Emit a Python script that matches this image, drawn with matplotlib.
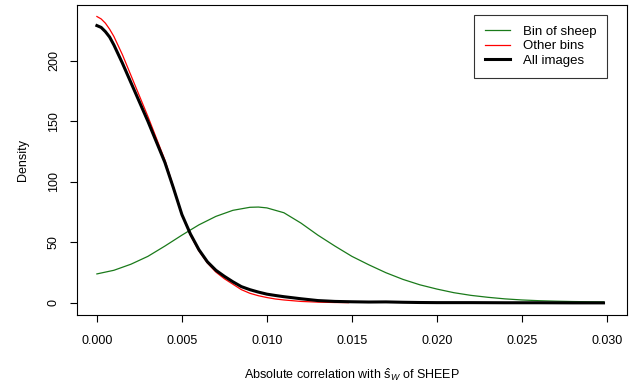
import matplotlib
matplotlib.use("Agg")
import matplotlib.pyplot as plt

plt.rcParams["font.family"] = ["Liberation Sans", "DejaVu Sans"]
plt.rcParams["mathtext.fontset"] = "custom"
plt.rcParams["mathtext.rm"] = "Liberation Sans"
plt.rcParams["mathtext.it"] = "Liberation Sans:italic"

# density estimates
x_all = [0, 0.00025, 0.0005, 0.00075, 0.001, 0.0015, 0.002, 0.0025, 0.003, 0.0035,
         0.004, 0.0045, 0.005, 0.0055, 0.006, 0.0065, 0.007, 0.0075, 0.008, 0.0085,
         0.009, 0.0095, 0.010, 0.0105, 0.011, 0.012, 0.013, 0.014, 0.015, 0.016,
         0.017, 0.018, 0.019, 0.020, 0.022, 0.024, 0.026, 0.028, 0.0298]
all_images = [229, 227.5, 224, 219.5, 213, 198, 182, 166, 150, 133,
              116, 95, 73, 57, 44, 34, 27, 22, 17.5, 13.5,
              11, 9, 7.3, 6.2, 5.2, 3.5, 2, 1.3, 1.0, 0.8,
              0.9, 0.6, 0.4, 0.3, 0.3, 0.2, 0.2, 0.1, 0.1]

x_other = [0, 0.00025, 0.0005, 0.00075, 0.001, 0.0015, 0.002, 0.0025, 0.003, 0.0035,
           0.004, 0.0045, 0.005, 0.0055, 0.006, 0.0065, 0.007, 0.0075, 0.008, 0.0085,
           0.009, 0.0095, 0.010, 0.0105, 0.011, 0.012, 0.013, 0.014, 0.0148]
other_bins = [236.5, 234.5, 231, 226, 220, 205, 188, 171, 154, 136,
              118, 96, 73, 56, 43, 33, 25.5, 20, 15.5, 11,
              8, 6, 4.5, 3.3, 2.5, 1.3, 0.7, 0.4, 0.3]

x_sheep = [0, 0.001, 0.002, 0.003, 0.004, 0.005, 0.006, 0.007, 0.008, 0.009,
           0.0095, 0.010, 0.011, 0.012, 0.013, 0.014, 0.015, 0.016, 0.017, 0.018,
           0.019, 0.020, 0.021, 0.022, 0.023, 0.024, 0.025, 0.026, 0.027, 0.028,
           0.029, 0.0298]
bin_of_sheep = [24, 27, 32, 38.5, 47, 56, 64.5, 71.5, 76.5, 79,
                79.2, 78.5, 74.5, 66, 56, 47, 38.5, 31.5, 25, 19.5,
                15, 11.5, 8.5, 6.3, 4.7, 3.4, 2.5, 1.9, 1.5, 1.2,
                1.0, 0.9]

x_ticks = [0.000, 0.005, 0.010, 0.015, 0.020, 0.025, 0.030]
y_ticks = [0, 50, 100, 150, 200]

fig = plt.figure(figsize=(6.41, 3.82), dpi=100)
ax = fig.add_axes([76.5 / 641, 1 - 314.5 / 382, (627.3 - 76.5) / 641, (314.5 - 5) / 382])

ax.plot(x_sheep, bin_of_sheep, color="#1a7a1a", lw=0.9, label="Bin of sheep")
ax.plot(x_other, other_bins, color="red", lw=0.9, label="Other bins")
ax.plot(x_all, all_images, color="black", lw=2.2, label="All images")

ax.set_xlim(-0.0012, 0.0312)
ax.set_ylim(-9.5, 246)
ax.set_xticks(x_ticks)
ax.set_xticklabels(["%.3f" % t for t in x_ticks])
ax.set_yticks(y_ticks)
ax.set_yticklabels([str(t) for t in y_ticks], rotation=90, va="center")
ax.tick_params(direction="out", length=5, width=0.8, labelsize=9)
ax.tick_params(axis="x", pad=9.5)
ax.tick_params(axis="y", pad=7)
for s in ax.spines.values():
    s.set_linewidth(0.8)

ax.set_xlabel(r"Absolute correlation with $\hat{\mathrm{s}}_{W}$ of SHEEP", fontsize=9, labelpad=14)
ax.set_ylabel("Density", fontsize=9, labelpad=13.5)

leg = ax.legend(loc="upper right", fontsize=9.5, frameon=True, fancybox=False,
                edgecolor="black", borderpad=0.8, handlelength=1.9, handletextpad=1.0,
                labelspacing=0.18, borderaxespad=0.0,
                bbox_to_anchor=(607 / 641, 1 - 15 / 382), bbox_transform=fig.transFigure)
leg.get_frame().set_linewidth(0.8)

fig.savefig("out.png", dpi=100)
